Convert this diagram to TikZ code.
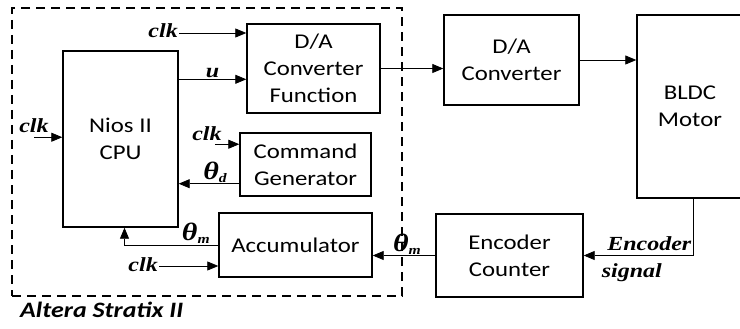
\documentclass[tikz,border=0pt]{standalone}
\usepackage{fontspec}
\usepackage{tikz}
\usetikzlibrary{positioning, arrows.meta, calc}
\newfontfamily\boxfont{Carlito}[FakeStretch=1.18]
\newfontfamily\lblfont{Liberation Serif}[FakeStretch=1.2]
\newcommand{\thetasig}[1]{{\fontsize{25}{25}\selectfont θ}\raisebox{-3pt}{\fontsize{13}{13}\selectfont #1}}

\begin{document}
\begin{tikzpicture}[
  x=1pt, y=-1pt,
  % Styles
  block/.style 2 args={
    rectangle, draw=black, line width=1.4pt,
    minimum width=#1, minimum height=#2, inner sep=0pt,
    font=\boxfont\fontsize{21}{27}\selectfont, align=center
  },
  fpgabox/.style={
    rectangle, draw=black, line width=1.4pt,
    dash pattern=on 9pt off 6pt,
    minimum width=390pt, minimum height=288pt, inner sep=0pt
  },
  sig/.style={
    -{Triangle[length=11pt, width=9pt]}, line width=0.8pt
  },
  lbl/.style={
    font=\lblfont\bfseries\itshape\fontsize{20}{22}\selectfont,
    inner sep=1pt
  },
]
\useasboundingbox (0,0) rectangle (740,329);

% === FPGA AREA ===
\node[fpgabox] (fpga) at (207,152) {};
\node[anchor=west, inner sep=0pt,
  font=\boxfont\bfseries\itshape\fontsize{22}{24}\selectfont] (fpganame) at (20,310) {Altera Stratix II};

% === BLOCKS ===
\node[block={115pt}{176pt}] (cpu) at (120.5,139) {Nios II\\CPU};
\node[block={133pt}{89pt}] (daf) at (313.5,68.5) {D/A\\Converter\\Function};
\node[block={131pt}{63pt}] (cmd) at (305.5,164.5) {Command\\Generator};
\node[block={153pt}{64pt}] (acc) at (295.5,245) {Accumulator};
\node[block={135pt}{90pt}] (dac) at (511.5,60) {D/A\\Converter};
\node[block={106pt}{183pt}] (bldc) at (690,106.5) {BLDC\\Motor};
\node[block={147pt}{83pt}] (enc) at (509.5,255.5) {Encoder\\Counter};

% === Clock inputs ===
\node[lbl, anchor=east] (clkdaf) at (179,31) {clk};
\draw[sig] ([yshift=-2pt]clkdaf.east) -- ([yshift=-2pt]clkdaf.east -| daf.west);

\node[lbl] (clkcpu) at (34,126) {clk};
\draw[sig] ([yshift=-3pt]clkcpu.south) -- ([yshift=-3pt]clkcpu.south -| cpu.west);

\node[lbl] (clkcmd) at (207,134) {clk};
\draw[sig] ([shift={(-8pt,-2pt)}]clkcmd.south east) -- ([yshift=-2pt]clkcmd.south east -| cmd.west);

\node[lbl, anchor=east] (clkacc) at (159,265) {clk};
\draw[sig] ([yshift=-1pt]clkacc.east) -- ([yshift=-1pt]clkacc.east -| acc.west);

% === Signal flow ===
\draw[sig] ($(cpu.north east)+(0,29)$) -- node[lbl, above] {u} ($(cpu.north east -| daf.west)+(0,29)$);
\draw[sig] (daf.east) -- (daf.east -| dac.west);
\draw[sig] (dac.east) -- (dac.east -| bldc.west);
\draw[sig] ($(cmd.south west)+(0,-13)$) -- node[lbl, above, xshift=6pt] {\thetasig{d}} ($(cmd.south west -| cpu.east)+(0,-13)$);
\draw[sig] (acc.west) -| node[lbl, above, pos=0.12] {\thetasig{m}} ([xshift=4pt]cpu.south);
\draw[sig] (enc.west) -- node[lbl, above, xshift=3pt] {\thetasig{m}} (enc.west -| acc.east);
\draw[sig] ([xshift=3pt]bldc.south) |- node[lbl, above, pos=0.7, yshift=3pt] {Encoder}
  node[lbl, below, pos=0.78, yshift=-7pt] {signal} (enc.east);

\end{tikzpicture}
\end{document}
